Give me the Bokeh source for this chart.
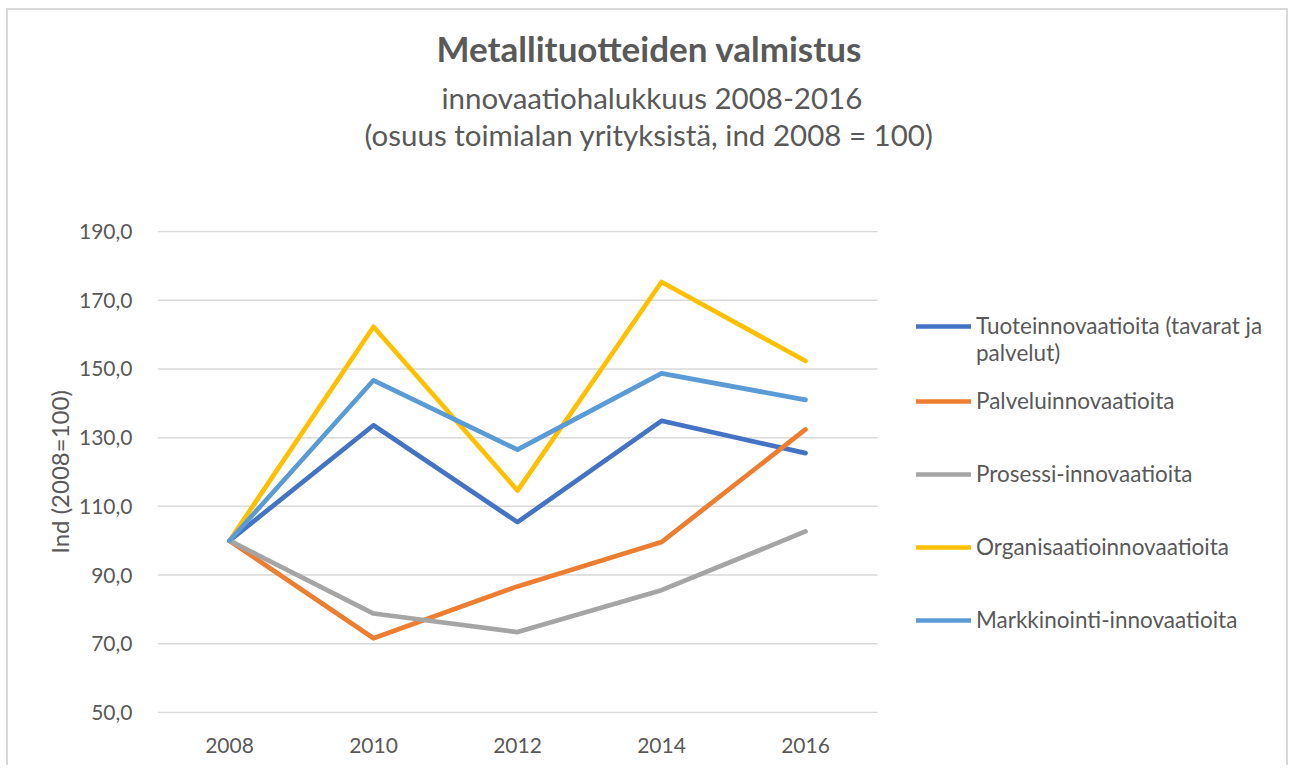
from bokeh.plotting import figure
from bokeh.models import FixedTicker, Legend, LegendItem, Title
from bokeh.embed import file_html
from bokeh.resources import INLINE

# ---- data ----
years = [2008, 2010, 2012, 2014, 2016]
tuote = [100.0, 133.6, 105.4, 134.9, 125.5]
palvelu = [100.0, 71.6, 86.7, 99.6, 132.4]
prosessi = [100.0, 78.8, 73.4, 85.6, 102.7]
organisaatio = [100.0, 162.3, 114.6, 175.3, 152.3]
markkinointi = [100.0, 146.7, 126.5, 148.7, 141.0]

series_names = [
    "Tuoteinnovaatioita (tavarat ja",
    "Palveluinnovaatioita",
    "Prosessi-innovaatioita",
    "Organisaatioinnovaatioita",
    "Markkinointi-innovaatioita",
]
name_continuation = "palvelut)"
series_values = [tuote, palvelu, prosessi, organisaatio, markkinointi]
colors = ["#4472C4", "#ED7D31", "#A5A5A5", "#FFC000", "#5B9BD5"]

y_ticks = [50, 70, 90, 110, 130, 150, 170, 190]
y_tick_labels = ["50,0", "70,0", "90,0", "110,0", "130,0", "150,0", "170,0", "190,0"]
x_tick_labels = ["2008", "2010", "2012", "2014", "2016"]

title_text = "Metallituotteiden valmistus"
subtitle1 = "innovaatiohalukkuus 2008-2016"
subtitle2 = "(osuus toimialan yrityksistä, ind 2008 = 100)"
y_label = "Ind (2008=100)"

FONT = "Lato"
TXT = "#595959"

# layout: plot area 2007..2017 is 720px wide; the frame is extended to the right
# so the legend (drawn inside the frame) is not clipped
W, H = 1282, 757
LEFT, RIGHT, TOP, BOTTOM = 149, 2, 220, 54
frame_w = W - LEFT - RIGHT
x_start, x_end_plot = 2007, 2017
x_end = x_start + (x_end_plot - x_start) * frame_w / 720.0

p = figure(
    width=W, height=H,
    x_range=(x_start, x_end), y_range=(49.7, 190.3),
    output_backend="svg", toolbar_location=None,
    min_border_left=LEFT, min_border_right=RIGHT,
    min_border_top=TOP, min_border_bottom=BOTTOM,
)
p.styles = {
    "margin-left": "6px", "margin-top": "8px",
    "border-left": "2px solid #D9D9D9",
    "border-top": "2px solid #D9D9D9",
    "border-right": "2px solid #D9D9D9",
}
p.outline_line_color = None
p.background_fill_color = "white"
p.border_fill_color = "white"

# horizontal gridlines only across the plot area
p.xgrid.grid_line_color = None
p.ygrid.grid_line_color = None
p.segment(x0=[x_start] * len(y_ticks), x1=[x_end_plot] * len(y_ticks),
          y0=y_ticks, y1=y_ticks, line_color="#D9D9D9", line_width=1.5)

p.yaxis.ticker = FixedTicker(ticks=y_ticks)
p.yaxis.major_label_overrides = {t: l for t, l in zip(y_ticks, y_tick_labels)}
p.xaxis.ticker = FixedTicker(ticks=years)
p.xaxis.major_label_overrides = {t: l for t, l in zip(years, x_tick_labels)}

for ax in (p.xaxis[0], p.yaxis[0]):
    ax.axis_line_color = None
    ax.major_tick_line_color = None
    ax.minor_tick_line_color = None
    ax.major_label_text_font = FONT
    ax.major_label_text_font_size = "21px"
    ax.major_label_text_color = TXT
p.yaxis.major_label_standoff = 19
p.xaxis.major_label_standoff = 18
p.yaxis.axis_label = y_label
p.yaxis.axis_label_text_font = FONT
p.yaxis.axis_label_text_font_size = "24px"
p.yaxis.axis_label_text_font_style = "normal"
p.yaxis.axis_label_text_color = TXT
p.yaxis.axis_label_standoff = 2

renderers = []
for vals, col in zip(series_values, colors):
    r = p.line(years, vals, line_color=col, line_width=4.7,
               line_cap="round", line_join="round")
    renderers.append(r)

# invisible helper renderer for the wrapped second line of the first legend entry
blank = p.line([], [], line_alpha=0)


def style_legend(lg):
    lg.border_line_color = None
    lg.background_fill_alpha = 0
    lg.padding = 0
    lg.margin = 0
    lg.glyph_width = 55
    lg.glyph_height = 20
    lg.label_height = 27
    lg.label_standoff = 5
    lg.label_text_font = FONT
    lg.label_text_font_size = "22.5px"
    lg.label_text_color = TXT
    lg.label_text_baseline = "middle"


legend_a = Legend(items=[LegendItem(label=series_names[0], renderers=[renderers[0]]),
                         LegendItem(label=name_continuation, renderers=[blank])],
                  location=(759, 347))
style_legend(legend_a)
legend_a.spacing = 0
p.add_layout(legend_a, "center")

legend_b = Legend(items=[LegendItem(label=n, renderers=[r])
                         for n, r in zip(series_names[1:], renderers[1:])],
                  location=(759, 80))
style_legend(legend_b)
legend_b.spacing = 46
p.add_layout(legend_b, "center")

# titles stacked above the frame (first added is nearest the frame)
p.add_layout(Title(text=" ", text_font_size="1px", standoff=76), "above")
p.add_layout(Title(text=subtitle2, align="left", offset=207, standoff=0,
                   text_font=FONT, text_font_size="29.5px", text_font_style="normal",
                   text_color=TXT), "above")
p.add_layout(Title(text=subtitle1, align="left", offset=284, standoff=0,
                   text_font=FONT, text_font_size="29.5px", text_font_style="normal",
                   text_color=TXT), "above")
p.add_layout(Title(text=title_text, align="left", offset=279, standoff=17,
                   text_font=FONT, text_font_size="35px", text_font_style="bold",
                   text_color=TXT), "above")

open("out.html", "w").write(file_html(p, INLINE))
